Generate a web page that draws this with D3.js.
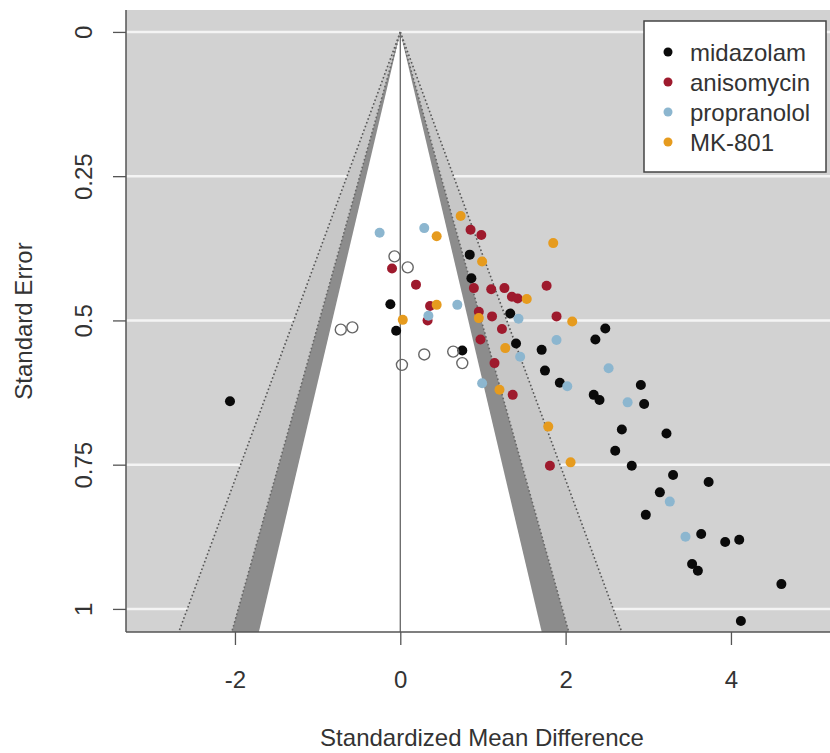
<!DOCTYPE html>
<html>
<head>
<meta charset="utf-8">
<script src="https://cdn.jsdelivr.net/npm/d3@7"></script>
<style>
  body { margin: 0; background: #fff; }
  svg { display: block; font-family: "Liberation Sans", Arial, sans-serif; }
</style>
</head>
<body>
<div id="chart"></div>
<script>
// Data: [standardized mean difference, standard error]
const seriesNames = ["midazolam", "anisomycin", "propranolol", "MK-801"];
const seriesColors = ["#0a0a0a", "#9e1a2d", "#8cb6cf", "#e69b1e"];

const midazolam = [
  [-2.06, 0.640], [-0.12, 0.472], [-0.05, 0.518], [0.84, 0.386], [0.86, 0.427],
  [0.75, 0.552], [1.33, 0.488], [1.40, 0.540], [1.71, 0.551], [1.75, 0.587],
  [2.36, 0.533], [2.48, 0.514], [1.93, 0.608], [2.34, 0.629], [2.41, 0.638],
  [2.91, 0.612], [2.95, 0.645], [2.68, 0.689], [3.22, 0.696], [2.60, 0.726],
  [2.80, 0.752], [3.30, 0.768], [3.73, 0.780], [3.14, 0.798], [2.97, 0.837],
  [3.64, 0.870], [3.93, 0.884], [4.10, 0.880], [3.53, 0.922], [3.60, 0.934],
  [4.61, 0.957], [4.12, 1.021]
];
const anisomycin = [
  [-0.10, 0.410], [0.19, 0.438], [0.36, 0.475], [0.33, 0.500], [0.85, 0.343],
  [0.98, 0.352], [0.89, 0.444], [1.10, 0.446], [1.26, 0.444], [1.35, 0.459],
  [1.42, 0.462], [1.77, 0.440], [0.95, 0.485], [1.11, 0.493], [1.23, 0.515],
  [0.97, 0.533], [1.14, 0.574], [1.36, 0.629], [1.89, 0.493], [1.81, 0.752]
];
const propranolol = [
  [-0.25, 0.348], [0.29, 0.340], [0.34, 0.492], [0.69, 0.473], [1.43, 0.497],
  [1.45, 0.563], [1.89, 0.534], [0.99, 0.609], [2.02, 0.614], [2.52, 0.583],
  [2.75, 0.642], [3.26, 0.814], [3.45, 0.875]
];
const mk801 = [
  [0.03, 0.499], [0.44, 0.473], [0.44, 0.354], [0.73, 0.319], [0.99, 0.398],
  [1.53, 0.463], [0.95, 0.496], [1.27, 0.548], [1.20, 0.620], [1.85, 0.366],
  [2.08, 0.502], [1.79, 0.684], [2.06, 0.746]
];
// imputed (trim-and-fill) studies, drawn as open circles
const imputed = [
  [-0.07, 0.389], [0.09, 0.408], [-0.72, 0.516], [-0.58, 0.512],
  [0.29, 0.559], [0.02, 0.577], [0.64, 0.554], [0.75, 0.574]
];

const xTicks = [-2, 0, 2, 4];
const xTickLabels = ["-2", "0", "2", "4"];
const yTicks = [0, 0.25, 0.5, 0.75, 1];
const yTickLabels = ["0", "0.25", "0.5", "0.75", "1"];

// contour z values: 90%, 95%, 99%
const zInner = 1.645, zMid = 1.96, zOuter = 2.576;

// Layout
const W = 830, H = 753;
const plot = { left: 126, right: 839, top: 10, bottom: 632 };

const x = d3.scaleLinear().domain([-3.318, 5.307]).range([plot.left, plot.right]);
const y = d3.scaleLinear().domain([-0.038, 1.04]).range([plot.top, plot.bottom]);
const seMax = 1.04;

const svg = d3.select("#chart").append("svg")
  .attr("width", W).attr("height", H);

svg.append("clipPath").attr("id", "clip")
  .append("rect")
  .attr("x", plot.left).attr("y", plot.top)
  .attr("width", plot.right - plot.left).attr("height", plot.bottom - plot.top);

const g = svg.append("g").attr("clip-path", "url(#clip)");

// background
g.append("rect")
  .attr("x", plot.left).attr("y", plot.top)
  .attr("width", plot.right - plot.left).attr("height", plot.bottom - plot.top)
  .attr("fill", "#d2d2d2");

// grid lines
g.selectAll(".grid").data(yTicks).join("line")
  .attr("x1", plot.left).attr("x2", plot.right)
  .attr("y1", d => y(d)).attr("y2", d => y(d))
  .attr("stroke", "#f4f4f4").attr("stroke-width", 2.5);

// funnel contour regions
const tri = z => [[0, 0], [-z * seMax, seMax], [z * seMax, seMax]]
  .map(p => [x(p[0]), y(p[1])].join(",")).join(" ");

g.append("polygon").attr("points", tri(zOuter)).attr("fill", "#c7c7c7");
g.append("polygon").attr("points", tri(zMid)).attr("fill", "#8c8c8c");
g.append("polygon").attr("points", tri(zInner)).attr("fill", "#ffffff");

// dotted pseudo-confidence lines
[zOuter, zMid].forEach((z, i) => {
  [-1, 1].forEach(s => {
    g.append("line")
      .attr("x1", x(0)).attr("y1", y(0))
      .attr("x2", x(s * z * seMax)).attr("y2", y(seMax))
      .attr("stroke", i === 0 ? "#555" : "#666")
      .attr("stroke-width", 1.6)
      .attr("stroke-dasharray", "1.6,2.4");
  });
});

// reference line at 0
g.append("line")
  .attr("x1", x(0)).attr("x2", x(0))
  .attr("y1", y(0)).attr("y2", y(seMax))
  .attr("stroke", "#666").attr("stroke-width", 1.3);

// points
const allSeries = [midazolam, anisomycin, propranolol, mk801];
allSeries.forEach((pts, i) => {
  g.append("g").selectAll("circle").data(pts).join("circle")
    .attr("cx", d => x(d[0]))
    .attr("cy", d => y(d[1]))
    .attr("r", 5)
    .attr("fill", seriesColors[i]);
});

g.append("g").selectAll("circle").data(imputed).join("circle")
  .attr("cx", d => x(d[0]))
  .attr("cy", d => y(d[1]))
  .attr("r", 5.5)
  .attr("fill", "none")
  .attr("stroke", "#666")
  .attr("stroke-width", 1.4);

// box lines (left + bottom)
svg.append("line")
  .attr("x1", plot.left).attr("x2", plot.left)
  .attr("y1", plot.top).attr("y2", plot.bottom)
  .attr("stroke", "#555").attr("stroke-width", 1.5);
svg.append("line")
  .attr("x1", plot.left).attr("x2", plot.right)
  .attr("y1", plot.bottom).attr("y2", plot.bottom)
  .attr("stroke", "#555").attr("stroke-width", 1.5);

// Y axis
const yAxis = svg.append("g")
  .attr("transform", `translate(${plot.left},0)`)
  .call(d3.axisLeft(y)
    .tickValues(yTicks)
    .tickFormat((d, i) => yTickLabels[i])
    .tickSize(13)
    .tickSizeOuter(0));
yAxis.select(".domain").remove();
yAxis.selectAll(".tick line").attr("stroke", "#555").attr("stroke-width", 1.3);
yAxis.selectAll(".tick text")
  .attr("x", null).attr("dy", null)
  .attr("transform", "translate(-34,0) rotate(-90)")
  .attr("text-anchor", "middle")
  .attr("fill", "#333")
  .style("font-size", "24px")
  .style("font-family", "'Liberation Sans', Arial, sans-serif");

// X axis
const xAxis = svg.append("g")
  .attr("transform", `translate(0,${plot.bottom})`)
  .call(d3.axisBottom(x)
    .tickValues(xTicks)
    .tickFormat((d, i) => xTickLabels[i])
    .tickSize(13)
    .tickSizeOuter(0));
xAxis.select(".domain").remove();
xAxis.selectAll(".tick line").attr("stroke", "#555").attr("stroke-width", 1.3);
xAxis.selectAll(".tick text")
  .attr("y", 56).attr("dy", null)
  .attr("fill", "#333")
  .style("font-size", "24px")
  .style("font-family", "'Liberation Sans', Arial, sans-serif");

// axis titles
svg.append("text")
  .attr("x", 482).attr("y", 746)
  .attr("text-anchor", "middle")
  .attr("fill", "#333")
  .style("font-size", "24px")
  .text("Standardized Mean Difference");

svg.append("text")
  .attr("transform", `translate(32,${(plot.top + plot.bottom) / 2}) rotate(-90)`)
  .attr("text-anchor", "middle")
  .attr("fill", "#333")
  .style("font-size", "24px")
  .text("Standard Error");

// legend
const legend = svg.append("g").attr("transform", "translate(644,21)");
legend.append("rect")
  .attr("width", 182).attr("height", 151)
  .attr("fill", "#fff")
  .attr("stroke", "#444").attr("stroke-width", 1.5);

seriesNames.forEach((name, i) => {
  const row = legend.append("g").attr("transform", `translate(0,${31 + i * 30})`);
  row.append("circle")
    .attr("cx", 24).attr("cy", 0).attr("r", 4.5)
    .attr("fill", seriesColors[i]);
  row.append("text")
    .attr("x", 46).attr("y", 9)
    .attr("fill", "#333")
    .style("font-size", "24px")
    .text(name);
});
</script>
</body>
</html>
